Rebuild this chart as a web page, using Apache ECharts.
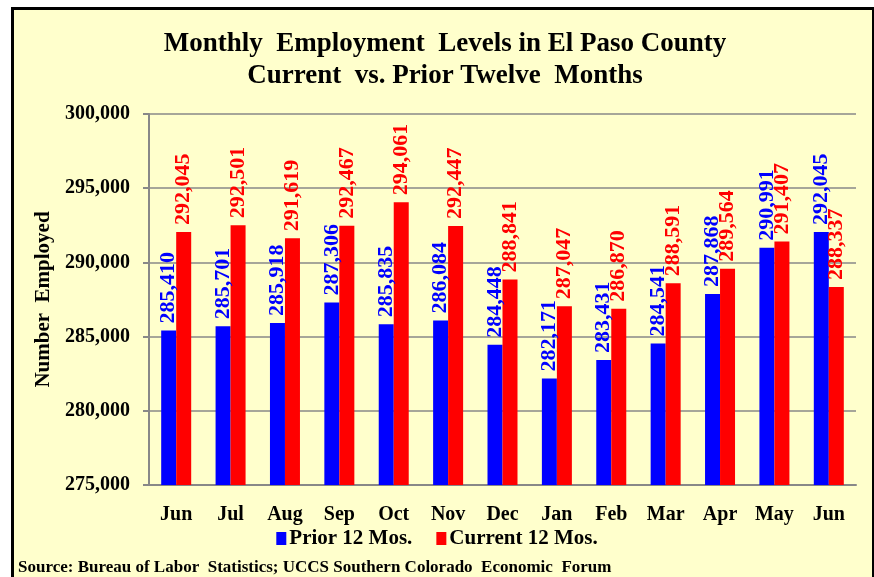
<!DOCTYPE html>
<html lang="en" style="height: 100%">
<head>
  <meta charset="UTF-8" />
  <title>Monthly Employment Levels in El Paso County</title>
  <script src="https://cdn.jsdelivr.net/npm/echarts@6.0.0/dist/echarts.min.js"></script>
  <style>
    html, body {
      height: 100%;
      margin: 0;
      background-color: #fff;
    }
    #chart {
      width: 874px;
      height: 577px;
    }
  </style>
</head>
<body>
  <div id="chart"></div>

  <script>
    const months = ['Jun', 'Jul', 'Aug', 'Sep', 'Oct', 'Nov', 'Dec', 'Jan', 'Feb', 'Mar', 'Apr', 'May', 'Jun'];
    const prior12 = [285410, 285701, 285918, 287306, 285835, 286084, 284448, 282171, 283431, 284541, 287868, 290991, 292045];
    const current12 = [292045, 292501, 291619, 292467, 294061, 292447, 288841, 287047, 286870, 288591, 289564, 291407, 288337];

    const serif = '"Liberation Serif", "Times New Roman", serif';
    const fmt = v => Number(v).toLocaleString('en-US');

    const chart = echarts.init(document.getElementById('chart'));

    // vertical value label sitting on top of each bar
    const barLabel = color => ({
      show: true,
      position: 'top',
      rotate: 90,
      align: 'left',
      verticalAlign: 'middle',
      distance: 7,
      fontFamily: serif,
      fontWeight: 'bold',
      fontSize: 22,
      color: color,
      formatter: p => fmt(p.value)
    });

    chart.setOption({
      backgroundColor: '#fff',
      animation: false,
      graphic: [
        {
          type: 'rect',
          z: -10,
          shape: { x: 12.5, y: 8.5, width: 861, height: 620 },
          style: { fill: '#FFFFCC', stroke: '#000', lineWidth: 3 }
        },
        {
          type: 'text',
          left: 18,
          top: 559,
          style: {
            text: 'Source: Bureau of Labor  Statistics; UCCS Southern Colorado  Economic  Forum',
            font: 'bold 17px ' + serif,
            fill: '#000'
          }
        }
      ],
      title: {
        text: 'Monthly  Employment  Levels in El Paso County\nCurrent  vs. Prior Twelve  Months',
        left: 440,
        top: 23,
        textAlign: 'center',
        textStyle: {
          fontFamily: serif,
          fontWeight: 'bold',
          fontSize: 27,
          lineHeight: 32,
          color: '#000'
        }
      },
      legend: {
        top: 523,
        left: 'center',
        itemWidth: 10,
        itemHeight: 13,
        itemGap: 24,
        icon: 'rect',
        textStyle: {
          fontFamily: serif,
          fontWeight: 'bold',
          fontSize: 21,
          color: '#000',
          padding: [0, 0, 0, -2]
        },
        data: ['Prior 12 Mos.', 'Current 12 Mos.']
      },
      grid: {
        left: 149,
        right: 18,
        top: 114,
        bottom: 92
      },
      xAxis: {
        type: 'category',
        data: months,
        axisLine: { lineStyle: { color: '#888', width: 2 } },
        axisTick: { show: false },
        axisLabel: {
          margin: 20,
          fontFamily: serif,
          fontWeight: 'bold',
          fontSize: 20,
          color: '#000'
        }
      },
      yAxis: {
        type: 'value',
        min: 275000,
        max: 300000,
        interval: 5000,
        name: 'Number  Employed',
        nameLocation: 'middle',
        nameGap: 90,
        nameTextStyle: {
          fontFamily: serif,
          fontWeight: 'bold',
          fontSize: 21,
          color: '#000'
        },
        axisLine: { show: true, lineStyle: { color: '#888', width: 2 } },
        axisTick: { show: true, length: 6, lineStyle: { color: '#888', width: 2 } },
        splitLine: { lineStyle: { color: '#888', width: 1.5 } },
        axisLabel: {
          margin: 19,
          fontFamily: serif,
          fontWeight: 'bold',
          fontSize: 20,
          color: '#000',
          formatter: fmt
        }
      },
      series: [
        {
          name: 'Prior 12 Mos.',
          type: 'bar',
          data: prior12,
          barWidth: 15,
          barGap: '0%',
          itemStyle: { color: '#0000FF' },
          label: barLabel('#0000FF')
        },
        {
          name: 'Current 12 Mos.',
          type: 'bar',
          data: current12,
          barWidth: 15,
          itemStyle: { color: '#FF0000' },
          label: barLabel('#FF0000')
        }
      ]
    });
  </script>
</body>
</html>
